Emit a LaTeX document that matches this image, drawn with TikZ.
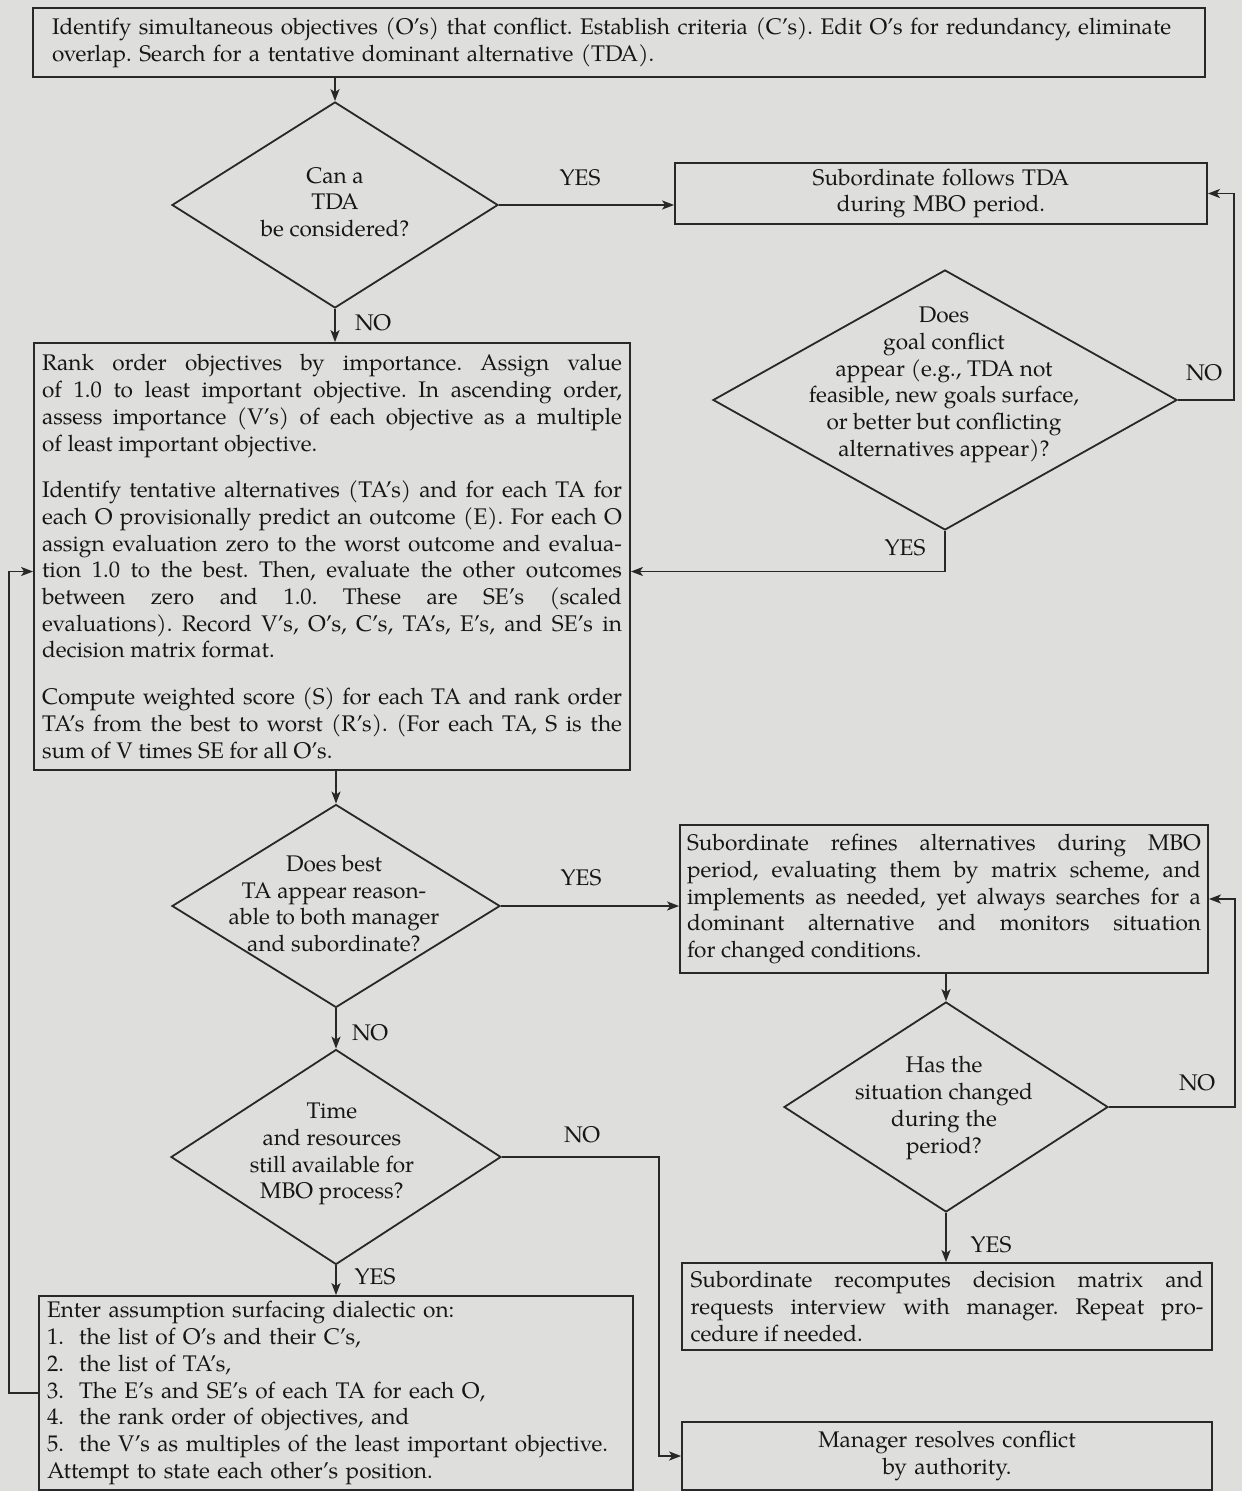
\documentclass[tikz,border=0pt]{standalone}
\usepackage{fontspec}
\setmainfont{TeX Gyre Pagella}
\usetikzlibrary{arrows.meta,shapes.geometric,calc}
\definecolor{bg}{RGB}{222,222,220}
\definecolor{ln}{RGB}{40,40,40}
\definecolor{tx}{RGB}{22,22,22}
\newcommand\fs{\fontsize{11.3pt}{13.35pt}\selectfont\frenchspacing}
\setlength\parindent{0pt}
\tikzset{
  box/.style={draw=ln, line width=0.9pt, rectangle, inner ysep=2pt, font=\fs, text=tx},
  dia/.style={draw=ln, line width=0.9pt, diamond, inner sep=0pt},
  dtext/.style={font=\fs, align=center, text=tx, inner sep=0pt},
  lbl/.style={font=\fs, text=tx, inner sep=0pt},
  arr/.style={draw=ln, line width=0.9pt, -{Stealth[length=6pt,width=4.5pt,inset=1.5pt]}}
}
\begin{document}
\begin{tikzpicture}[x=0.5pt,y=-0.5pt]
\fill[bg] (0,0) rectangle (1242,1491);
\useasboundingbox (0,0) rectangle (1242,1491);

% boxes
\node[box, minimum width=586pt, minimum height=34.5pt, text width=567pt, align=left] (top) at (619,42.5)
 {Identify simultaneous objectives (O's) that conflict. Establish criteria (C's). Edit O's for redundancy, eliminate\\
  overlap. Search for a tentative dominant alternative (TDA).};

\node[box, minimum width=266pt, minimum height=30.5pt, text width=250pt, align=center] (follows) at (941,193.5)
 {Subordinate follows TDA\\ during MBO period.};

\node[box, minimum width=298pt, minimum height=213.5pt, text width=290pt, align=justify] (rank) at (332,556.5)
 {Rank order objectives by importance. Assign value\linebreak
  of 1.0 to least important objective. In ascending order,\linebreak
  assess importance (V's) of each objective as a multiple\linebreak
  of least important objective.\par\vspace{10pt}
  Identify tentative alternatives (TA's) and for each TA for\linebreak
  each O provisionally predict an outcome (E). For each O\linebreak
  assign evaluation zero to the worst outcome and evalua-\linebreak
  tion 1.0 to the best. Then, evaluate the other outcomes\linebreak
  between zero and 1.0. These are SE's (scaled\linebreak
  evaluations). Record V's, O's, C's, TA's, E's, and SE's in\linebreak
  decision matrix format.\par\vspace{10pt}
  Compute weighted score (S) for each TA and rank order\linebreak
  TA's from the best to worst (R's). (For each TA, S is the\linebreak
  sum of V times SE for all O's.};

\node[box, minimum width=264pt, minimum height=74pt, text width=257pt, align=justify] (refine) at (944,899)
 {Subordinate refines alternatives during MBO\linebreak
  period, evaluating them by matrix scheme, and\linebreak
  implements as needed, yet always searches for a\linebreak
  dominant alternative and monitors situation\linebreak
  for changed conditions.};

\node[box, minimum width=265pt, minimum height=43.5pt, text width=256.5pt, align=justify] (rec) at (947,1306.5)
 {Subordinate recomputes decision matrix and\linebreak
  requests interview with manager. Repeat pro-\linebreak
  cedure if needed.};

\node[box, minimum width=265pt, minimum height=34pt, text width=250pt, align=center] (mgr) at (947,1456)
 {Manager resolves conflict\\ by authority.};

\node[box, minimum width=297pt, minimum height=97pt, text width=289pt, align=left, inner ysep=1pt] (dial) at (336,1393)
 {Enter assumption surfacing dialectic on:\\
  1.\ \ the list of O's and their C's,\\
  2.\ \ the list of TA's,\\
  3.\ \ The E's and SE's of each TA for each O,\\
  4.\ \ the rank order of objectives, and\\
  5.\ \ the V's as multiples of the least important objective.\\
  Attempt to state each other's position.};

% decisions
\node[dia, minimum width=163pt, minimum height=103pt] (D1) at (335,205) {};
\node[dtext] (D1t) at (335,202) {Can a\\ TDA\\ be considered?};

\node[dia, minimum width=232pt, minimum height=130pt] (D2) at (945,400) {};
\node[dtext] (D2t) at (944,385) {Does\\ goal conflict\\ appear (e.g., TDA not\\ feasible, new goals surface,\\ or better but conflicting\\ alternatives appear)?};

\node[dia, minimum width=164pt, minimum height=101.5pt] (D4) at (336,906) {};
\node[dtext] (D4t) at (334,903.5) {Does best\\ TA appear reason-\\ able to both manager\\ and subordinate?};

\node[dia, minimum width=165pt, minimum height=107.5pt] (D5) at (336,1157) {};
\node[dtext] (D5t) at (332,1154) {Time\\ and resources\\ still available for\\ MBO process?};

\node[dia, minimum width=162pt, minimum height=105pt] (D3) at (946,1107) {};
\node[dtext] (D3t) at (944,1108) {Has the\\ situation changed\\ during the\\ period?};

% labels
\node[lbl] (y1) at (580,178) {YES};
\node[lbl] (n1) at (373,323) {NO};
\node[lbl] (n2) at (1204,373) {NO};
\node[lbl] (y2) at (905,548) {YES};
\node[lbl] (y4) at (581,878) {YES};
\node[lbl] (n4) at (370,1033) {NO};
\node[lbl] (n5) at (582,1135) {NO};
\node[lbl] (y5) at (375,1277) {YES};
\node[lbl] (n3) at (1197,1083) {NO};
\node[lbl] (y3) at (991,1245) {YES};

% connectors
\draw[arr] (D1.north |- top.south) -- (D1.north);
\draw[arr] (D1.east) -- (D1.east -| follows.west);
\draw[arr] (D1.south) -- (D1.south |- rank.north);
\draw[arr] (D2.east) -- ++(56,0) |- (follows.east);
\draw[arr] (D2.south) |- ($(rank.east)+(0,15)$);
\draw[arr] (D4.north |- rank.south) -- (D4.north);
\draw[arr] (D4.east) -- (D4.east -| refine.west);
\draw[arr] (D4.south) -- (D5.north);
\draw[arr] (D5.east) -- ++(157,0) |- (mgr.west);
\draw[arr] (D5.south) -- (D5.south |- dial.north);
\draw[arr] (dial.west) -- ++(-29,0) |- ($(rank.west)+(0,15)$);
\draw[arr] (D3.north |- refine.south) -- (D3.north);
\draw[arr] (D3.east) -- ++(126,0) |- (refine.east);
\draw[arr] (D3.south) -- (D3.south |- rec.north);
\end{tikzpicture}
\end{document}
